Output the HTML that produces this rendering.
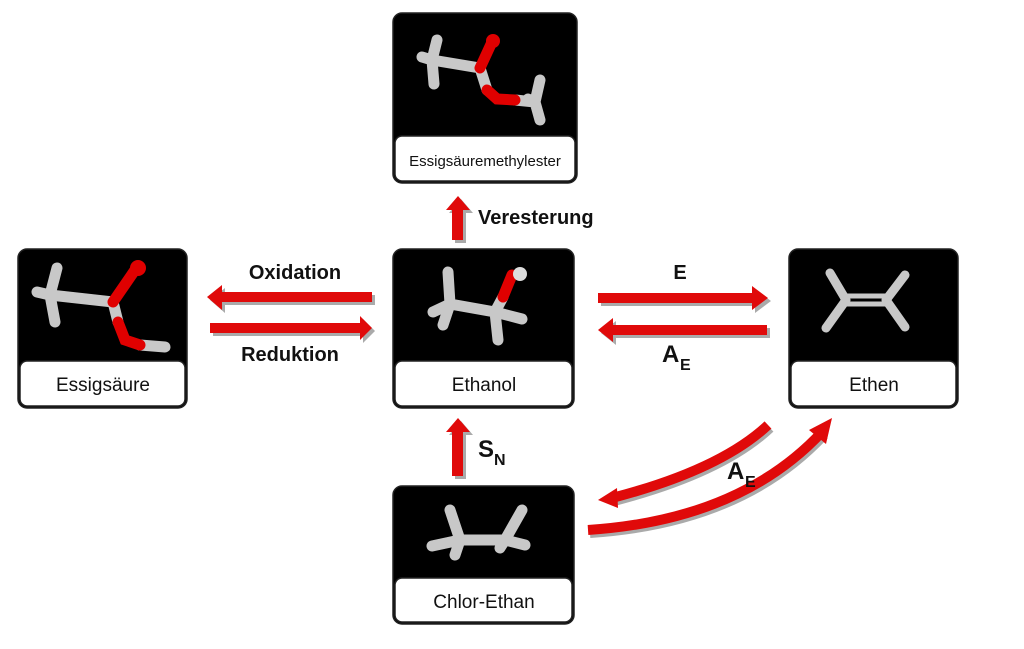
<!DOCTYPE html>
<html><head><meta charset="utf-8"><style>
body{margin:0;background:#fff;}
svg{display:block;}
text{font-family:"Liberation Sans",sans-serif;}
.b{font-weight:bold;font-size:20px;fill:#111;}
.l{font-size:19px;fill:#111;}
</style></head><body>
<svg width="1024" height="649" viewBox="0 0 1024 649" xmlns="http://www.w3.org/2000/svg">
<g stroke="#222" stroke-width="1.5">
<rect x="393" y="13" width="184" height="170" rx="9" fill="#000"/>
<rect x="395" y="136" width="180" height="45" rx="7" fill="#fff"/>
<rect x="18" y="249" width="169" height="159" rx="9" fill="#000"/>
<rect x="20" y="361" width="165" height="45" rx="7" fill="#fff"/>
<rect x="393" y="249" width="181" height="159" rx="9" fill="#000"/>
<rect x="395" y="361" width="177" height="45" rx="7" fill="#fff"/>
<rect x="789" y="249" width="169" height="159" rx="9" fill="#000"/>
<rect x="791" y="361" width="165" height="45" rx="7" fill="#fff"/>
<rect x="393" y="486" width="181" height="138" rx="9" fill="#000"/>
<rect x="395" y="578" width="177" height="44" rx="7" fill="#fff"/>
</g>
<text class="l" x="485" y="166" text-anchor="middle" style="font-size:15px">Essigsäuremethylester</text>
<text class="l" x="103" y="391" text-anchor="middle">Essigsäure</text>
<text class="l" x="484" y="391" text-anchor="middle">Ethanol</text>
<text class="l" x="874" y="391" text-anchor="middle">Ethen</text>
<text class="l" x="484" y="608" text-anchor="middle">Chlor-Ethan</text>
<g stroke-linecap="round" fill="none" stroke-width="11">
<g stroke="#c8c8c8"><path d="M432 60 L480 68 M432 60 L437 40 M432 60 L422 57 M432 60 L434 84 M480 68 L487 90 M515 100 L535 102 M535 102 L540 80 M535 102 L540 120 M535 102 L528 99"/></g>
<g stroke="#e00000"><path d="M480 68 L492 42 M487 90 L497 99 L515 100"/></g>
<circle cx="493" cy="41" r="7" fill="#e00000"/>
<g stroke="#c8c8c8"><path d="M50 295 L113 302 M50 295 L57 268 M50 295 L37 292 M50 295 L55 322 M113 302 L118 322 M140 345 L165 347"/></g>
<g stroke="#e00000"><path d="M113 302 L135 270 M118 322 L125 340 L140 345"/></g>
<circle cx="138" cy="268" r="8" fill="#e00000"/>
<g stroke="#c8c8c8"><path d="M450 304 L495 312 M450 304 L448 272 M450 304 L433 312 M450 304 L443 325 M495 312 L522 319 M495 312 L498 340 M495 312 L503 297"/></g>
<g stroke="#e00000"><path d="M503 297 L512 275"/></g>
<circle cx="520" cy="274" r="7" fill="#ddd"/>
<g stroke="#c8c8c8" stroke-width="9"><path d="M846 300 L830 273 M846 300 L826 328 M886 300 L905 275 M886 300 L905 327"/></g>
<g stroke="#c8c8c8" stroke-width="5"><path d="M846 296 L886 296 M846 304 L886 304"/></g>
<g stroke="#c8c8c8"><path d="M460 540 L505 540 M460 540 L450 510 M460 540 L432 546 M460 540 L455 555 M505 540 L522 510 M505 540 L525 545 M505 540 L500 548"/></g>
</g>
<g fill="#aaa" transform="translate(3,3)">
<polygon points="207,297 222,285 222,292 372,292 372,302 222,302 222,310"/>
<polygon points="210,323 360,323 360,316 372,328 360,340 360,333 210,333"/>
<polygon points="598,293 752,293 752,286 768,298 752,310 752,303 598,303"/>
<polygon points="598,330 613,318 613,325 767,325 767,335 613,335 613,342"/>
<polygon points="458,196 470,210 463,210 463,240 452,240 452,210 446,210"/>
<polygon points="458,418 470,432 463,432 463,476 452,476 452,432 446,432"/>
</g>
<g fill="#e00a0a">
<polygon points="207,297 222,285 222,292 372,292 372,302 222,302 222,310"/>
<polygon points="210,323 360,323 360,316 372,328 360,340 360,333 210,333"/>
<polygon points="598,293 752,293 752,286 768,298 752,310 752,303 598,303"/>
<polygon points="598,330 613,318 613,325 767,325 767,335 613,335 613,342"/>
<polygon points="458,196 470,210 463,210 463,240 452,240 452,210 446,210"/>
<polygon points="458,418 470,432 463,432 463,476 452,476 452,432 446,432"/>
</g>
<g fill="none" stroke-width="10">
<path d="M768 425 Q720 470 612 498" stroke="#aaa" transform="translate(2,3)"/>
<path d="M768 425 Q720 470 612 498" stroke="#e00a0a"/>
<path d="M588 530 Q740 520 822 432" stroke="#aaa" transform="translate(2,3)"/>
<path d="M588 530 Q740 520 822 432" stroke="#e00a0a"/>
</g>
<polygon points="598,500 617,488 618,508" fill="#e00a0a"/>
<polygon points="832,418 826,444 809,430" fill="#e00a0a"/>
<text class="b" x="295" y="279" text-anchor="middle">Oxidation</text>
<text class="b" x="290" y="361" text-anchor="middle">Reduktion</text>
<text class="b" x="478" y="224">Veresterung</text>
<text class="b" x="680" y="279" text-anchor="middle">E</text>
<text class="b" x="662" y="362" style="font-size:24px">A</text><text class="b" x="680" y="370" style="font-size:16px">E</text>
<text class="b" x="478" y="457" style="font-size:24px">S</text><text class="b" x="494" y="465" style="font-size:16px">N</text>
<text class="b" x="727" y="479" style="font-size:24px">A</text><text class="b" x="745" y="487" style="font-size:16px">E</text>
</svg>
</body></html>
